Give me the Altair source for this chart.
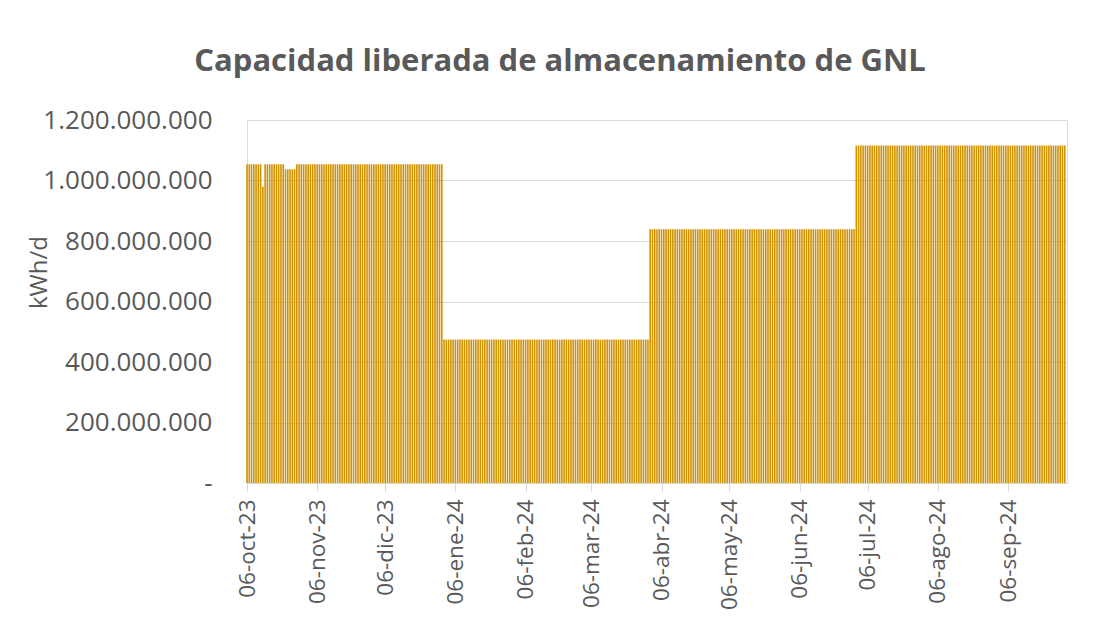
import altair as alt
import pandas as pd

# Step segments (start date, end date, kWh/d)
seg_start = ["2023-10-06", "2023-10-13", "2023-10-14", "2023-10-23", "2023-10-28",
             "2024-01-01", "2024-04-01", "2024-07-01"]
seg_end = ["2023-10-12", "2023-10-13", "2023-10-22", "2023-10-27", "2023-12-31",
           "2024-03-31", "2024-06-30", "2024-10-01"]
seg_value = [1054000000, 980000000, 1054000000, 1037000000, 1054000000,
             474000000, 839000000, 1116000000]

tick_dates = ["2023-10-06", "2023-11-06", "2023-12-06", "2024-01-06", "2024-02-06",
              "2024-03-06", "2024-04-06", "2024-05-06", "2024-06-06", "2024-07-06",
              "2024-08-06", "2024-09-06"]
y_ticks = [0, 200000000, 400000000, 600000000, 800000000, 1000000000, 1200000000]

rows = []
for s, e, v in zip(seg_start, seg_end, seg_value):
    for d in pd.date_range(s, e, freq="D"):
        rows.append({"fecha": d.strftime("%Y-%m-%d"), "valor": v})
df = pd.DataFrame(rows)

tick_vals = [alt.DateTime(year=int(t[:4]), month=int(t[5:7]), date=int(t[8:]), utc=True)
             for t in tick_dates]

TXT = "#595959"
FONT = "Open Sans"

month_expr = "['ene','feb','mar','abr','may','jun','jul','ago','sep','oct','nov','dic']"
xlabel = ("utcFormat(datum.value,'%d') + '-' + " + month_expr +
          "[utcmonth(datum.value)] + '-' + utcFormat(datum.value,'%y')")
ylabel = ("datum.value == 0 ? '-\u00a0\u00a0' : replace(format(datum.value, ',.0f'), /,/g, '.')")

chart = alt.Chart(df).mark_bar(size=1.6, color="#D09200").encode(
    x=alt.X("fecha:T",
            scale=alt.Scale(type="utc", padding=0,
                            domain=[alt.DateTime(year=2023, month=10, date=6, utc=True),
                                    alt.DateTime(year=2024, month=10, date=2, utc=True)]),
            axis=alt.Axis(title=None, values=tick_vals, labelExpr=xlabel,
                          labelAngle=270, labelFontSize=22.5, labelColor=TXT,
                          labelFont=FONT, labelPadding=8, tickSize=8,
                          tickColor="#d9d9d9", domainColor="#d9d9d9",
                          grid=False, labelOverlap=False)),
    y=alt.Y("valor:Q",
            scale=alt.Scale(domain=[0, 1200000000], nice=False),
            axis=alt.Axis(title="kWh/d", values=y_ticks, labelExpr=ylabel,
                          labelFontSize=26, labelColor=TXT, labelFont=FONT,
                          labelPadding=35, ticks=False, domain=False,
                          gridColor="#d9d9d9", gridWidth=1,
                          titleFont=FONT, titleFontSize=24, titleColor=TXT,
                          titleFontWeight="normal", titleAngle=270,
                          titleX=-208, titleY=152, titleAlign="center",
                          titleBaseline="middle")),
).properties(
    width=820,
    height=363,
    title=alt.TitleParams("Capacidad liberada de almacenamiento de GNL",
                          font=FONT, fontSize=31, fontWeight="bold", color=TXT,
                          anchor="middle", dx=-97, dy=46, offset=44, baseline="bottom"),
    autosize=alt.AutoSizeParams(type="none"),
    padding={"left": 239, "top": 112, "right": 24, "bottom": 130},
).configure_view(stroke=None).configure(background="white")

chart.save("out.html", embed_options={"renderer": "svg", "actions": False})
